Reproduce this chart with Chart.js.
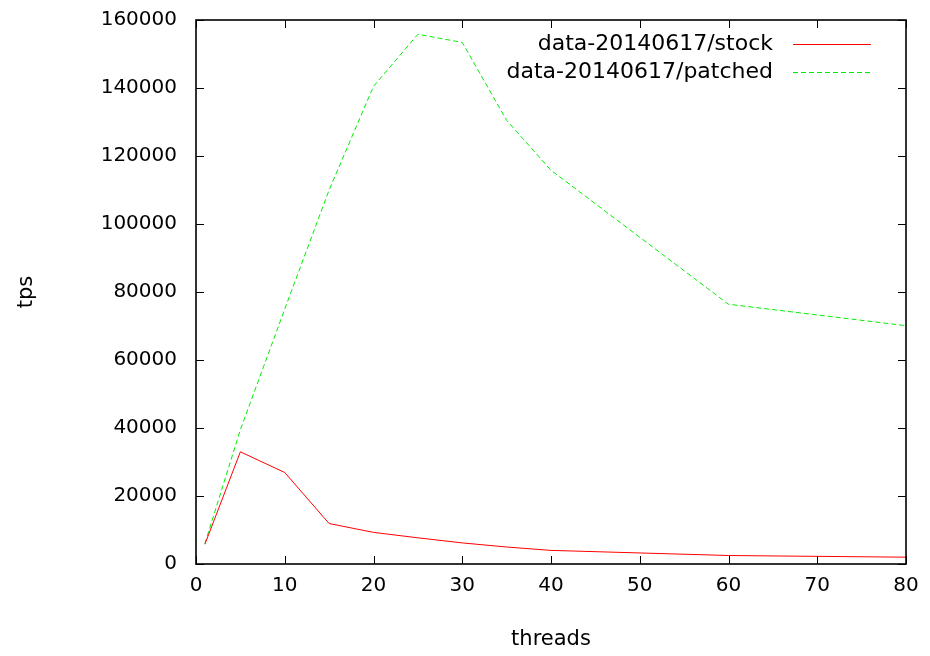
<!DOCTYPE html>
<html>
<head>
<meta charset="utf-8">
<script src="https://cdn.jsdelivr.net/npm/chart.js@4"></script>
<style>
  html, body { margin: 0; padding: 0; background: #fff; }
  #wrap { width: 930px; height: 656px; }
</style>
</head>
<body>
<div id="wrap"><canvas id="myChart" width="930" height="656"></canvas></div>
<script>
const threads = [1, 5, 10, 15, 20, 25, 30, 35, 40, 60, 80];
const stock = [5800, 33000, 26900, 11900, 9300, 7700, 6200, 5000, 4000, 2500, 2000];
const patched = [6000, 39500, 75000, 110000, 140500, 155800, 153400, 130500, 115800, 76400, 70100];
const xTicks = [0, 10, 20, 30, 40, 50, 60, 70, 80];
const yTicks = [0, 20000, 40000, 60000, 80000, 100000, 120000, 140000, 160000];
const seriesNames = ['data-20140617/stock', 'data-20140617/patched'];

const FONT = 'DejaVu Sans';

// gnuplot style frame: box round the plot, ticks pointing inward on all four sides
const frame = {
  id: 'frame',
  afterDatasetsDraw(chart) {
    const c = chart.ctx, a = chart.chartArea;
    const xs = chart.scales.x, ys = chart.scales.y;
    c.save();
    c.strokeStyle = '#000';
    c.lineWidth = 1;
    c.beginPath();
    xTicks.forEach(v => {
      const px = Math.round(xs.getPixelForValue(v)) + 0.5;
      c.moveTo(px, a.bottom); c.lineTo(px, a.bottom - 8);
      c.moveTo(px, a.top); c.lineTo(px, a.top + 8);
    });
    yTicks.forEach(v => {
      const py = Math.round(ys.getPixelForValue(v)) + 0.5;
      c.moveTo(a.left, py); c.lineTo(a.left + 8, py);
      c.moveTo(a.right, py); c.lineTo(a.right - 8, py);
    });
    c.stroke();
    c.lineWidth = 1.6;
    c.strokeRect(a.left, a.top, a.right - a.left, a.bottom - a.top);

    // legend, text on the left of its sample line
    c.font = '22px "' + FONT + '"';
    c.textAlign = 'right';
    c.textBaseline = 'middle';
    c.fillStyle = '#000';
    chart.data.datasets.forEach((ds, i) => {
      const y = 44 + i * 28;
      c.fillText(seriesNames[i], 773, y);
      c.strokeStyle = ds.borderColor;
      c.lineWidth = 1;
      c.setLineDash(ds.borderDash || []);
      c.beginPath();
      c.moveTo(793, y + 0.5); c.lineTo(871, y + 0.5);
      c.stroke();
      c.setLineDash([]);
    });
    c.restore();
  }
};

const ctx = document.getElementById('myChart');

new Chart(ctx, {
  type: 'line',
  data: {
    datasets: [{
      label: seriesNames[0],
      data: threads.map((t, i) => ({x: t, y: stock[i]})),
      borderColor: '#ff0000',
      borderWidth: 1,
      pointRadius: 0,
      tension: 0,
      fill: false
    }, {
      label: seriesNames[1],
      data: threads.map((t, i) => ({x: t, y: patched[i]})),
      borderColor: '#00ee00',
      borderWidth: 1,
      borderDash: [5, 3],
      pointRadius: 0,
      tension: 0,
      fill: false
    }]
  },
  options: {
    responsive: false,
    animation: false,
    layout: { padding: { top: 20, right: 24, left: 0, bottom: 0 } },
    plugins: { legend: { display: false }, tooltip: { enabled: false } },
    scales: {
      x: {
        type: 'linear',
        min: 0, max: 80,
        afterBuildTicks: s => { s.ticks = xTicks.map(v => ({value: v})); },
        afterFit: s => { s.height = 92; s.paddingLeft = 0; s.paddingRight = 0; },
        grid: { display: false, drawTicks: false },
        border: { display: false },
        ticks: { color: '#000', padding: 10, font: { family: FONT, size: 20 } },
        title: { display: true, text: 'threads', color: '#000', padding: { top: 11 }, font: { family: FONT, size: 21 } }
      },
      y: {
        min: 0, max: 160000,
        afterBuildTicks: s => { s.ticks = yTicks.map(v => ({value: v})); },
        afterFit: s => { s.width = 196; s.paddingTop = 0; s.paddingBottom = 0; },
        grid: { display: false, drawTicks: false },
        border: { display: false },
        ticks: { color: '#000', padding: 19, font: { family: FONT, size: 20 }, callback: v => String(v) },
        title: { display: true, text: 'tps', color: '#000', padding: { top: 14 }, font: { family: FONT, size: 21 } }
      }
    }
  },
  plugins: [frame]
});
</script>
</body>
</html>
